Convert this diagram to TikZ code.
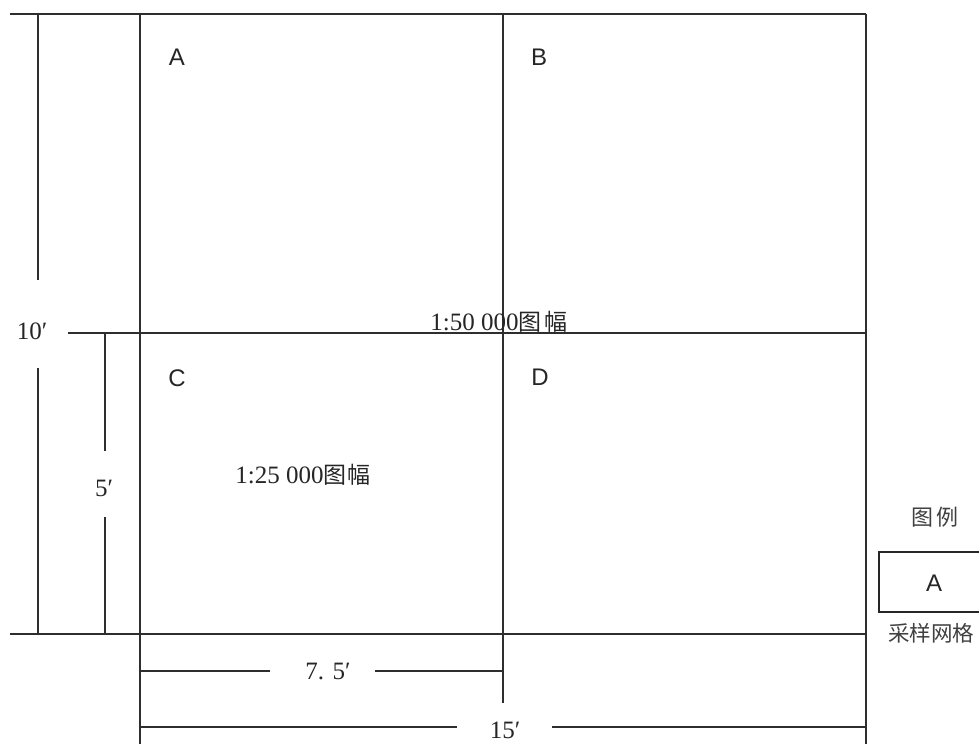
\documentclass[tikz,border=0pt]{standalone}
\usepackage{fontspec}
\setmainfont{Liberation Serif}
\newfontfamily\sansf{Liberation Sans}
\newfontfamily\cjk{Noto Sans CJK SC}
\begin{document}
\begin{tikzpicture}[x=1pt,y=-1pt,
  grid/.style={line width=2.8pt,draw=black!82},
  lbl/.style={inner sep=0pt,text=black!85,font=\sansf\fontsize{24}{24}\selectfont},
  num/.style={inner sep=0pt,text=black!85,font=\fontsize{25}{25}\selectfont},
  cjkl/.style={inner sep=0pt,text=black!75,font=\cjk\fontsize{22}{22}\selectfont}]
\clip (0,0) rectangle (979,744);
\fill[white] (0,0) rectangle (979,744);
% frame lines
\draw[grid] (10,14) -- (866,14);
\draw[grid] (38,14) -- (38,280);
\draw[grid] (38,368) -- (38,634);
\draw[grid] (140,14) -- (140,744);
\draw[grid] (503,14) -- (503,703);
\draw[grid] (866,14) -- (866,744);
\draw[grid] (68,333) -- (866,333);
\draw[grid] (105,333) -- (105,451);
\draw[grid] (105,517) -- (105,634);
\draw[grid] (10,634) -- (866,634);
\draw[grid] (140,671) -- (270,671);
\draw[grid] (375,671) -- (503,671);
\draw[grid] (140,727) -- (457,727);
\draw[grid] (552,727) -- (866,727);
% labels
\node[lbl] (A) at (177,57) {A};
\node[lbl] (B) at (539,57) {B};
\node[lbl] (C) at (177,378) {C};
\node[lbl] (D) at (540,377) {D};
\node[num] (ten) at (32,331) {10′};
\node[num] (five) at (104,488) {5′};
\node[num] (sevenfive) at (328,671) {7. 5′};
\node[num] (fifteen) at (505,730) {15′};
\node[num,anchor=base] (s50) at (499,330) {1:50 000{\cjk\fontsize{23}{23}\selectfont 图\hspace{3pt}幅}};
\node[num,anchor=base] (s25) at (303,483) {1:25 000{\cjk\fontsize{23}{23}\selectfont 图\hspace{1pt}幅}};
% legend
\node[cjkl] (legt) at (935,517) {图\hspace{3pt}例};
\draw[line width=2.4pt,draw=black!85] (879,552) rectangle (1000,612);
\node[lbl] (legA) at (934,583) {A};
\node[cjkl,anchor=west,font=\cjk\fontsize{21.5}{21.5}\selectfont] (legs) at (888,633) {采样网格};
\end{tikzpicture}
\end{document}
